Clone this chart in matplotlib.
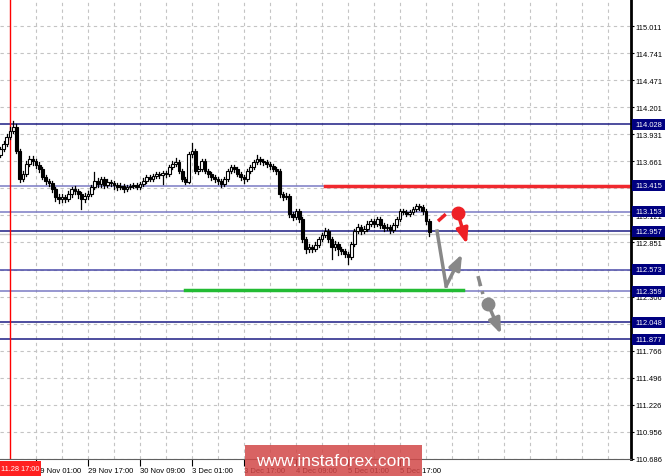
import matplotlib
matplotlib.use('Agg')
import matplotlib.pyplot as plt
from matplotlib.patches import Rectangle
from matplotlib.transforms import blended_transform_factory
from matplotlib import rcParams

rcParams['font.family'] = ['Liberation Sans', 'DejaVu Sans']

# hourly closes, one per bar (bar 3 = 28 Nov 17:00)
closes = [113.78, 113.83, 113.90, 113.96, 114.00, 113.76, 113.48, 113.53, 113.63, 113.68,
          113.66, 113.62, 113.58, 113.50, 113.46, 113.44, 113.38, 113.30, 113.28, 113.30,
          113.28, 113.33, 113.38, 113.36, 113.33, 113.28, 113.31, 113.33, 113.40, 113.46,
          113.43, 113.48, 113.42, 113.45, 113.44, 113.42, 113.40, 113.41, 113.38, 113.40,
          113.41, 113.42, 113.40, 113.43, 113.46, 113.50, 113.48, 113.51, 113.53, 113.52,
          113.54, 113.53, 113.60, 113.63, 113.65, 113.56, 113.48, 113.45, 113.73, 113.76,
          113.56, 113.58, 113.66, 113.56, 113.53, 113.50, 113.48, 113.46, 113.43, 113.48,
          113.56, 113.60, 113.58, 113.53, 113.50, 113.48, 113.56, 113.60, 113.65, 113.68,
          113.66, 113.65, 113.63, 113.61, 113.58, 113.56, 113.33, 113.30, 113.31, 113.13,
          113.10, 113.16, 113.08, 112.88, 112.78, 112.80, 112.78, 112.82, 112.88, 112.92,
          112.96, 112.88, 112.80, 112.83, 112.78, 112.76, 112.73, 112.70, 112.83, 112.96,
          113.00, 112.96, 112.98, 113.03, 113.06, 113.03, 113.08, 113.02, 112.99, 113.00,
          112.97, 113.02, 113.08, 113.16, 113.15, 113.13, 113.15, 113.18, 113.21, 113.20,
          113.16, 113.06, 112.95]
first_open = 113.72
highs = [113.80, 113.86, 113.93, 114.00, 114.06, 114.03, 113.78, 113.56, 113.66, 113.71,
         113.71, 113.68, 113.65, 113.60, 113.52, 113.48, 113.46, 113.40, 113.33, 113.33,
         113.32, 113.36, 113.40, 113.41, 113.38, 113.35, 113.34, 113.36, 113.42, 113.55,
         113.49, 113.50, 113.50, 113.48, 113.47, 113.46, 113.44, 113.44, 113.43, 113.42,
         113.43, 113.44, 113.44, 113.45, 113.49, 113.52, 113.52, 113.53, 113.55, 113.55,
         113.56, 113.56, 113.62, 113.66, 113.69, 113.67, 113.58, 113.50, 113.75, 113.84,
         113.78, 113.61, 113.68, 113.68, 113.58, 113.55, 113.52, 113.50, 113.48, 113.50,
         113.58, 113.62, 113.62, 113.60, 113.55, 113.52, 113.58, 113.62, 113.67, 113.72,
         113.70, 113.68, 113.67, 113.65, 113.63, 113.60, 113.58, 113.35, 113.34, 113.33,
         113.15, 113.18, 113.18, 113.10, 112.90, 112.83, 112.82, 112.85, 112.90, 112.94,
         112.99, 112.98, 112.90, 112.86, 112.85, 112.80, 112.78, 112.75, 112.85, 112.98,
         113.03, 113.02, 113.01, 113.06, 113.08, 113.08, 113.10, 113.10, 113.04, 113.03,
         113.02, 113.04, 113.10, 113.18, 113.18, 113.17, 113.17, 113.20, 113.23, 113.23,
         113.22, 113.18, 113.08]
lows = [113.70, 113.76, 113.81, 113.88, 113.94, 113.74, 113.45, 113.46, 113.51, 113.61,
        113.62, 113.59, 113.55, 113.48, 113.43, 113.41, 113.35, 113.26, 113.24, 113.25,
        113.25, 113.26, 113.30, 113.33, 113.29, 113.18, 113.25, 113.28, 113.31, 113.38,
        113.40, 113.40, 113.39, 113.40, 113.41, 113.38, 113.37, 113.38, 113.35, 113.36,
        113.38, 113.39, 113.38, 113.38, 113.41, 113.44, 113.46, 113.46, 113.49, 113.49,
        113.43, 113.50, 113.51, 113.58, 113.61, 113.54, 113.46, 113.43, 113.44, 113.70,
        113.54, 113.53, 113.56, 113.54, 113.50, 113.47, 113.45, 113.43, 113.40, 113.41,
        113.46, 113.54, 113.55, 113.51, 113.47, 113.44, 113.46, 113.54, 113.58, 113.63,
        113.63, 113.62, 113.60, 113.58, 113.56, 113.53, 113.30, 113.27, 113.28, 113.10,
        113.07, 113.08, 113.05, 112.85, 112.74, 112.75, 112.75, 112.76, 112.80, 112.86,
        112.90, 112.85, 112.68, 112.77, 112.72, 112.73, 112.70, 112.63, 112.68, 112.81,
        112.94, 112.93, 112.94, 112.96, 113.01, 113.00, 113.01, 112.99, 112.96, 112.97,
        112.94, 112.95, 113.00, 113.06, 113.13, 113.11, 113.11, 113.13, 113.16, 113.17,
        113.13, 113.03, 112.91]

# horizontal levels
level_prices = [114.028, 113.415, 113.153, 112.957, 112.573, 112.359, 112.048, 111.877]
level_labels = ['114.028', '113.415', '113.153', '112.957', '112.573', '112.359', '112.048', '111.877']
level_colors = ['#1c1c84', '#7a7ac4', '#7a7ac4', '#1c1c84', '#4a4aa8', '#7a7ac4', '#1c1c84', '#1c1c84']

price_ticks = [115.011, 114.741, 114.471, 114.201, 113.931, 113.661, 113.391, 113.121, 112.851,
               112.576, 112.306, 112.036, 111.766, 111.496, 111.226, 110.956, 110.686]

time_bars = [11, 27, 43, 59, 75, 91, 107, 123]
time_labels = ['29 Nov 01:00', '29 Nov 17:00', '30 Nov 09:00', '3 Dec 01:00',
               '3 Dec 17:00', '4 Dec 09:00', '5 Dec 01:00', '5 Dec 17:00']
grid_bars = list(range(11, 195, 8))
marker_bar = 3
bid_price = 112.93

# forecast paths (bar index, price)
red_line = (113.415, 99.9)
green_line = (112.37, 56.8, 142.4)
red_dash = ([134.7, 137.8], [113.06, 113.15])
red_dot = (140.8, 113.14)
red_tip = (143.6, 112.83)
gray_v = ([134.4, 137.2], [112.96, 112.41])
gray_tip = (142.1, 112.73)
gray_dash = ([147.0, 148.5], [112.51, 112.33])
gray_dot = (150.1, 112.23)
gray_tip2 = (154.1, 111.93)

W, H = 665, 477
fig = plt.figure(figsize=(W / 100, H / 100), dpi=100)
ax = fig.add_axes([0, 17 / H, 631 / W, 460 / H])
ax.set_xlim(-0.077, 194.08)
ax.set_ylim(110.681, 115.281)

for p in price_ticks:
    ax.axhline(p, color='#c4c4c4', lw=0.8, ls=(0, (3, 3)), zorder=0)
for b in grid_bars:
    ax.axvline(b, color='#c4c4c4', lw=0.8, ls=(0, (3, 3)), zorder=0)

for p, c in zip(level_prices, level_colors):
    ax.axhline(p, color=c, lw=1.1, zorder=1)
ax.axhline(bid_price, color='#c8c8c8', lw=1, zorder=1)
ax.axvline(marker_bar, color='red', lw=1, zorder=1)

# candles
opens = [first_open] + closes[:-1]
for i, (o, c, h, l) in enumerate(zip(opens, closes, highs, lows)):
    ax.plot([i, i], [l, h], color='black', lw=0.9, zorder=3)
    bottom = min(o, c)
    height = max(abs(c - o), 0.008)
    fc = 'white' if c >= o else 'black'
    ax.add_patch(Rectangle((i - 0.4, bottom), 0.8, height, facecolor=fc,
                           edgecolor='black', lw=0.8, zorder=4))

# support / resistance marks
ax.plot([red_line[1], 194.08], [red_line[0]] * 2, color='#f0282e', lw=2.5, zorder=2)
ax.plot(green_line[1:], [green_line[0]] * 2, color='#22bb33', lw=2.5, zorder=2)

red = '#ee2026'
gray = '#888888'
head = '-|>,head_length=0.9,head_width=0.35'
ax.plot(*red_dash, color=red, lw=2.5, ls=(0, (3, 1.5)), zorder=5)
ax.plot(*red_dot, 'o', color=red, ms=9, zorder=6)
ax.annotate('', xy=red_tip, xytext=red_dot,
            arrowprops=dict(arrowstyle=head, color=red, lw=2.5, shrinkA=0, shrinkB=0), zorder=5)
ax.plot(*gray_v, color=gray, lw=2.5, zorder=5)
ax.annotate('', xy=gray_tip, xytext=(gray_v[0][1], gray_v[1][1]),
            arrowprops=dict(arrowstyle=head, color=gray, lw=2.5, shrinkA=0, shrinkB=0), zorder=5)
ax.plot(*gray_dash, color=gray, lw=2.5, ls=(0, (3, 1.5)), zorder=5)
ax.plot(*gray_dot, 'o', color=gray, ms=9, zorder=6)
ax.annotate('', xy=gray_tip2, xytext=gray_dot,
            arrowprops=dict(arrowstyle=head, color=gray, lw=2.5, shrinkA=0, shrinkB=0), zorder=5)

# axes
for s in ['top', 'left']:
    ax.spines[s].set_visible(False)
ax.spines['right'].set_linewidth(2)
ax.spines['bottom'].set_color('#606060')
ax.yaxis.tick_right()
ax.set_yticks(price_ticks)
ax.set_yticklabels(['%.3f' % p for p in price_ticks])
ax.tick_params(axis='y', length=2, width=0.8, labelsize=5.4, pad=1.5)
ax.set_xticks(time_bars)
ax.set_xticklabels(time_labels, ha='left')
ax.tick_params(axis='x', length=5, width=0.8, labelsize=5.5, pad=1)

# price boxes on the right
tr = blended_transform_factory(fig.transFigure, ax.transData)
ax.add_patch(Rectangle((632 / W, bid_price - 0.055), 33 / W, 0.11, transform=tr,
                       facecolor='black', clip_on=False, zorder=10))
for p, lab in zip(level_prices, level_labels):
    ax.add_patch(Rectangle((632 / W, p - 0.055), 33 / W, 0.11, transform=tr,
                           facecolor='#000080', clip_on=False, zorder=11))
    ax.text(635 / W, p, lab, transform=tr, color='white', fontsize=5.4,
            va='center', ha='left', zorder=12, clip_on=False)

# time marker box
fig.patches.append(Rectangle((0, 0), 41 / W, 15 / H, transform=fig.transFigure,
                             facecolor='#ff2020', zorder=10))
fig.text(1 / W, 7.5 / H, '11.28 17:00', color='white', fontsize=5.3, va='center', zorder=11)

# watermark
fig.patches.append(Rectangle((245 / W, 0), 177 / W, 31 / H, transform=fig.transFigure,
                             facecolor='#d24848', alpha=0.85, zorder=10))
fig.text(333 / W, 15 / H, 'www.instaforex.com', color='white', fontsize=12.5,
         ha='center', va='center', zorder=11)

fig.savefig('out.png', dpi=100)
